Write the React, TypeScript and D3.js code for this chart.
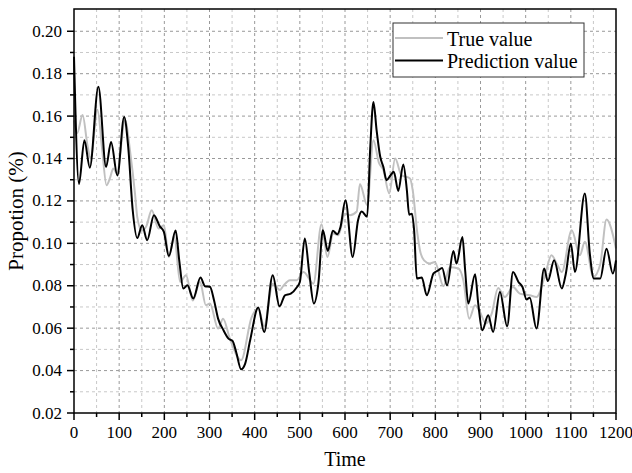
import React from "react";
import * as d3 from "d3";

const predX = [0, 11, 23, 35, 54, 71, 82, 96, 111, 120, 130, 140, 151, 162, 177, 190, 199, 210, 225, 233, 242, 251, 264, 280, 290, 301, 310, 319, 331, 342, 351, 359, 370, 379, 390, 408, 421, 440, 455, 467, 480, 493, 500, 511, 521, 531, 541, 551, 562, 573, 583, 590, 601, 617, 629, 637, 649, 656, 663, 670, 678, 685, 692, 701, 708, 718, 729, 737, 742, 748, 753, 759, 770, 781, 796, 807, 815, 826, 840, 847, 860, 866, 873, 888, 895, 904, 917, 928, 943, 959, 972, 984, 993, 1002, 1009, 1024, 1041, 1049, 1063, 1080, 1089, 1100, 1109, 1131, 1142, 1151, 1165, 1179, 1193, 1200];
const predY = [0.188, 0.128, 0.1486, 0.1357, 0.1738, 0.136, 0.1478, 0.132, 0.1596, 0.1455, 0.1156, 0.1025, 0.1085, 0.1015, 0.1133, 0.108, 0.1054, 0.094, 0.106, 0.092, 0.0787, 0.0802, 0.074, 0.0839, 0.0798, 0.0795, 0.0732, 0.0645, 0.059, 0.0551, 0.054, 0.0488, 0.0406, 0.0433, 0.0543, 0.0697, 0.0582, 0.085, 0.0703, 0.0755, 0.0763, 0.0792, 0.0818, 0.1023, 0.0858, 0.0716, 0.081, 0.1062, 0.0964, 0.1059, 0.1043, 0.1077, 0.1203, 0.0936, 0.111, 0.115, 0.1125, 0.1455, 0.1667, 0.1533, 0.1408, 0.136, 0.1298, 0.1321, 0.1337, 0.1247, 0.1372, 0.125, 0.1135, 0.114, 0.1062, 0.0834, 0.0839, 0.0755, 0.0858, 0.0873, 0.0884, 0.0802, 0.0964, 0.0905, 0.103, 0.0873, 0.0716, 0.0854, 0.0716, 0.059, 0.0661, 0.0582, 0.0771, 0.0609, 0.0865, 0.0818, 0.0794, 0.0735, 0.0744, 0.0598, 0.0881, 0.0822, 0.092, 0.0787, 0.0858, 0.0999, 0.0865, 0.1235, 0.0952, 0.0834, 0.0834, 0.0975, 0.0858, 0.092];

const trueX = [0, 7, 19, 30, 37, 52, 62, 72, 80, 87, 95, 113, 125, 135, 140, 150, 160, 172, 187, 199, 210, 222, 235, 248, 263, 279, 292, 301, 319, 330, 345, 370, 393, 408, 421, 440, 456, 463, 478, 493, 508, 530, 548, 561, 574, 585, 600, 611, 626, 633, 649, 663, 675, 685, 698, 711, 725, 744, 750, 760, 766, 775, 788, 799, 818, 832, 851, 862, 875, 888, 898, 912, 925, 939, 954, 972, 987, 1009, 1024, 1043, 1057, 1070, 1080, 1102, 1120, 1131, 1150, 1165, 1179, 1200];
const trueY = [0.158, 0.152, 0.1605, 0.146, 0.14, 0.163, 0.145, 0.1274, 0.131, 0.1353, 0.133, 0.158, 0.142, 0.1236, 0.1125, 0.106, 0.108, 0.1156, 0.107, 0.1085, 0.0936, 0.103, 0.0818, 0.085, 0.073, 0.0818, 0.0708, 0.0716, 0.0598, 0.0645, 0.0551, 0.0449, 0.065, 0.0692, 0.061, 0.081, 0.078, 0.0798, 0.0826, 0.0826, 0.0865, 0.081, 0.109, 0.0936, 0.1046, 0.1038, 0.114, 0.1133, 0.115, 0.128, 0.118, 0.1486, 0.138, 0.1345, 0.1235, 0.14, 0.1321, 0.1306, 0.125, 0.105, 0.0967, 0.092, 0.0905, 0.0912, 0.0798, 0.0887, 0.0881, 0.0826, 0.0645, 0.0708, 0.068, 0.0622, 0.067, 0.079, 0.0747, 0.0794, 0.0763, 0.0755, 0.0747, 0.085, 0.0944, 0.09, 0.0865, 0.1062, 0.0944, 0.1007, 0.0842, 0.09, 0.1112, 0.0976];

const xTicks = [0, 100, 200, 300, 400, 500, 600, 700, 800, 900, 1000, 1100, 1200];
const xMinor = [50, 150, 250, 350, 450, 550, 650, 750, 850, 950, 1050, 1150];
const yTicks = [0.02, 0.04, 0.06, 0.08, 0.1, 0.12, 0.14, 0.16, 0.18, 0.2];
const yMinor = [0.03, 0.05, 0.07, 0.09, 0.11, 0.13, 0.15, 0.17, 0.19];

const seriesNames = ["True value", "Prediction value"];

const W = 632, H = 473;
const L = 74, R = 616, T = 9, B = 413;
const FONT = "'Liberation Serif', 'Times New Roman', serif";

export default function App() {
  const x = d3.scaleLinear().domain([0, 1200]).range([L, R]);
  const y = d3.scaleLinear().domain([0.02, 0.2105]).range([B, T]);
  const line = d3
    .line<[number, number]>()
    .x((d) => x(d[0]))
    .y((d) => y(d[1]))
    .curve(d3.curveMonotoneX);
  const trueData: [number, number][] = trueX.map((v, i) => [v, trueY[i]]);
  const predData: [number, number][] = predX.map((v, i) => [v, predY[i]]);

  return (
    <svg
      width={W}
      height={H}
      style={{ position: "absolute", left: 0, top: 0, background: "#fff" }}
      fontFamily={FONT}
    >
      <rect x={0} y={0} width={W} height={H} fill="#fff" />
      {xMinor.map((t) => (
        <line key={"xm" + t} x1={x(t)} x2={x(t)} y1={T} y2={B} stroke="#c8c8c8" strokeWidth={1} strokeDasharray="3,3" />
      ))}
      {yMinor.map((t) => (
        <line key={"ym" + t} x1={L} x2={R} y1={y(t)} y2={y(t)} stroke="#c8c8c8" strokeWidth={1} strokeDasharray="3,3" />
      ))}
      {xTicks.slice(1, -1).map((t) => (
        <line key={"xg" + t} x1={x(t)} x2={x(t)} y1={T} y2={B} stroke="#999" strokeWidth={1} strokeDasharray="3,3" />
      ))}
      {yTicks.slice(1).map((t) => (
        <line key={"yg" + t} x1={L} x2={R} y1={y(t)} y2={y(t)} stroke="#999" strokeWidth={1} strokeDasharray="3,3" />
      ))}
      <path d={line(trueData) || ""} fill="none" stroke="#c0c0c0" strokeWidth={2} />
      <path d={line(predData) || ""} fill="none" stroke="#000" strokeWidth={2} />
      <rect x={L} y={T} width={R - L} height={B - T} fill="none" stroke="#000" strokeWidth={1.5} />
      {xTicks.map((t) => (
        <g key={"xt" + t}>
          <line x1={x(t)} x2={x(t)} y1={B} y2={B + 7} stroke="#000" strokeWidth={1.5} />
          <text x={x(t)} y={438} textAnchor="middle" fontSize={17} fill="#000">
            {t}
          </text>
        </g>
      ))}
      {xMinor.map((t) => (
        <line key={"xmt" + t} x1={x(t)} x2={x(t)} y1={B} y2={B + 4} stroke="#000" strokeWidth={1.5} />
      ))}
      {yTicks.map((t) => (
        <g key={"yt" + t}>
          <line x1={L - 7} x2={L} y1={y(t)} y2={y(t)} stroke="#000" strokeWidth={1.5} />
          <text x={62} y={y(t) + 5.5} textAnchor="end" fontSize={17} fill="#000">
            {t.toFixed(2)}
          </text>
        </g>
      ))}
      {yMinor.map((t) => (
        <line key={"ymt" + t} x1={L - 4} x2={L} y1={y(t)} y2={y(t)} stroke="#000" strokeWidth={1.5} />
      ))}
      <text x={(L + R) / 2} y={466} textAnchor="middle" fontSize={20} fill="#000">
        Time
      </text>
      <text
        transform={`translate(23, ${(T + B) / 2}) rotate(-90)`}
        textAnchor="middle"
        fontSize={21}
        fill="#000"
      >
        Propotion (%)
      </text>
      <rect x={393} y={23} width={191} height={54} fill="#fff" stroke="#333" strokeWidth={1} />
      <line x1={395} x2={443} y1={38} y2={38} stroke="#c0c0c0" strokeWidth={2} />
      <line x1={395} x2={443} y1={60.5} y2={60.5} stroke="#000" strokeWidth={2} />
      <text x={447} y={45.5} fontSize={20} fill="#000">
        {seriesNames[0]}
      </text>
      <text x={447} y={68} fontSize={20} fill="#000">
        {seriesNames[1]}
      </text>
    </svg>
  );
}
